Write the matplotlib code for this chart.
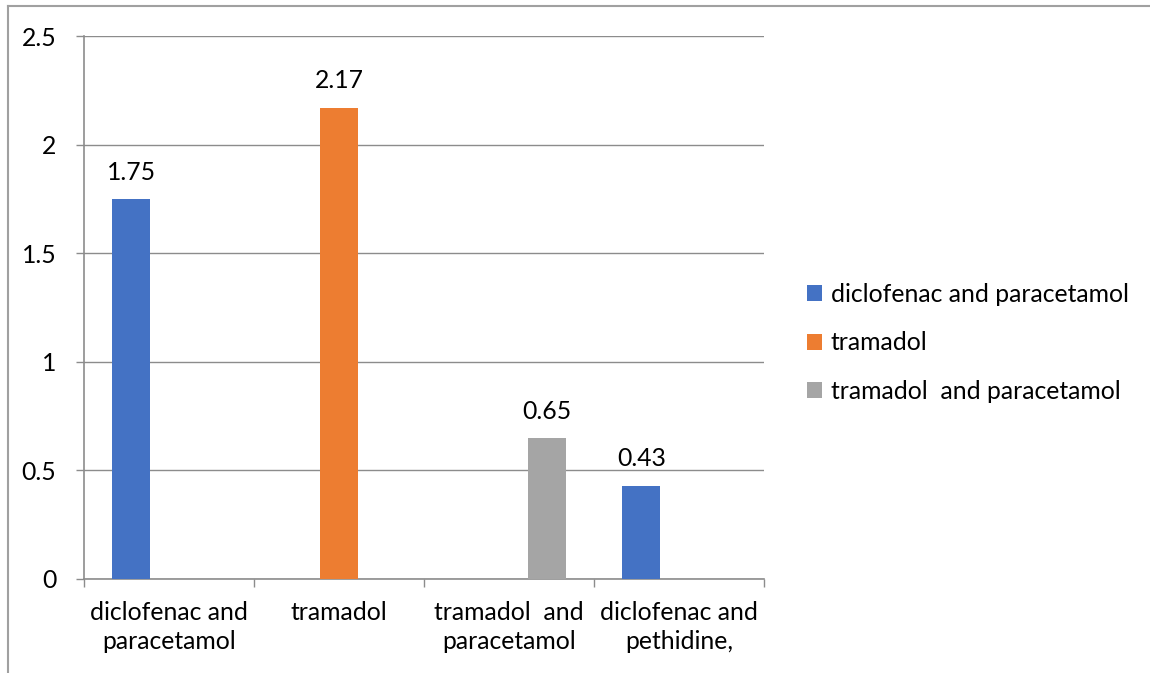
import numpy as np
import matplotlib
matplotlib.use("Agg")
import matplotlib.pyplot as plt
from matplotlib.lines import Line2D

plt.rcParams['font.family'] = ['Lato', 'DejaVu Sans']

# Categories along the x axis (Excel wraps them on two lines)
categories = ["diclofenac and\nparacetamol", "tramadol", "tramadol  and\nparacetamol", "diclofenac and\npethidine,"]

# One series per legend entry; NaN where the series has no bar
series_names = ["diclofenac and paracetamol", "tramadol", "tramadol  and paracetamol"]
diclofenac_paracetamol = [1.75, np.nan, np.nan, 0.43]
tramadol = [np.nan, 2.17, np.nan, np.nan]
tramadol_paracetamol = [np.nan, np.nan, 0.65, np.nan]
colors = ["#4472C4", "#ED7D31", "#A5A5A5"]

y_ticks = [0, 0.5, 1, 1.5, 2, 2.5]
y_tick_labels = ["0", "0.5", "1", "1.5", "2", "2.5"]

W, H = 1150, 673
FS = 17.8
fig = plt.figure(figsize=(W / 100, H / 100), dpi=100)
ax = fig.add_axes([84 / W, 1 - 579 / H, (764 - 84) / W, (579 - 36) / H])

grey = "#8C8C8C"
all_series = [diclofenac_paracetamol, tramadol, tramadol_paracetamol]
x = np.arange(len(categories))
# gap width 150% like the Excel default
bar_w = 1 / (len(all_series) + 1.5)
for i, (vals, name, col) in enumerate(zip(all_series, series_names, colors)):
    offs = (i - 1) * bar_w
    ax.bar(x + offs, vals, width=bar_w, color=col, label=name, zorder=3)
    for xi, v in zip(x + offs, vals):
        if not np.isnan(v):
            ax.annotate(f"{v:.2f}", (xi, v), xytext=(0, 11), textcoords="offset points",
                        ha="center", va="bottom", fontsize=FS, color="#000000")

ax.set_xlim(-0.5, len(categories) - 0.5)
ax.set_ylim(0, 2.5)
ax.set_yticks(y_ticks)
ax.set_yticklabels(y_tick_labels)
ax.yaxis.grid(True, color=grey, linewidth=1.0, zorder=0)
ax.set_axisbelow(True)

ax.set_xticks(x)
ax.set_xticklabels(categories, linespacing=1.32)
ax.set_xticks(np.arange(len(categories) + 1) - 0.5, minor=True)
ax.tick_params(axis="x", which="major", length=0, pad=16, labelsize=FS)
ax.tick_params(axis="x", which="minor", length=6, color=grey, width=1)
ax.tick_params(axis="y", length=6, color=grey, width=1, pad=14, labelsize=FS)

for side in ["top", "right"]:
    ax.spines[side].set_visible(False)
for side in ["left", "bottom"]:
    ax.spines[side].set_color(grey)
    ax.spines[side].set_linewidth(1.2)

ax.legend(loc="center left", bbox_to_anchor=(1.03, 0.435), frameon=False,
          fontsize=FS, handlelength=0.62, handleheight=0.62,
          handletextpad=0.35, labelspacing=1.02)

# frame edges around the chart
fig.add_artist(Line2D([8 / W, 8 / W], [0, 1 - 6 / H], color="#A0A0A0", linewidth=1.5))
fig.add_artist(Line2D([8 / W, 1], [1 - 6 / H, 1 - 6 / H], color="#A0A0A0", linewidth=1.5))

fig.savefig("out.png", dpi=100)
